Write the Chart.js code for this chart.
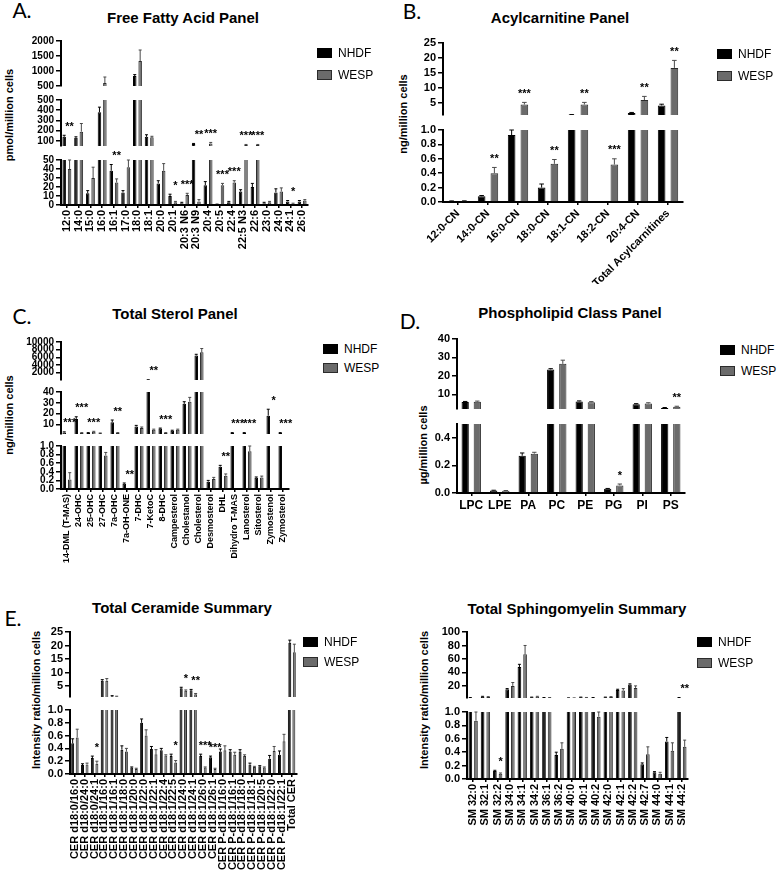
<!DOCTYPE html>
<html>
<head>
<meta charset="utf-8">
<title>Lipid panels</title>
<script src="https://cdn.jsdelivr.net/npm/chart.js@4.4.0/dist/chart.umd.min.js"></script>
<style>
  body { margin: 0; background: #fff; width: 784px; height: 874px; position: relative; overflow: hidden;
         font-family: "Liberation Sans", Arial, sans-serif; color: #000; }
  canvas { position: absolute; }
  .title { position: absolute; font-weight: bold; font-size: 15px; white-space: nowrap; transform: translate(-50%, -50%); }
  .ylab { position: absolute; font-weight: bold; font-size: 11px; white-space: nowrap; transform: translate(-50%, -50%) rotate(-90deg); }
  .letter { position: absolute; font-family: Lato, sans-serif; font-size: 21px; transform: translate(-50%, -50%); }
  .legbox { position: absolute; width: 15px; height: 10px; box-sizing: border-box; }
  .legtxt { position: absolute; font-size: 12px; line-height: 12px; white-space: nowrap; }
</style>
</head>
<body>

<div class="letter" style="left:22px;top:9px">A.</div>
<div class="letter" style="left:412px;top:10px">B.</div>
<div class="letter" style="left:22px;top:315px">C.</div>
<div class="letter" style="left:410px;top:320px">D.</div>
<div class="letter" style="left:13px;top:617px">E.</div>

<div class="title" style="left:183px;top:17px">Free Fatty Acid Panel</div>
<div class="title" style="left:560px;top:17px">Acylcarnitine Panel</div>
<div class="title" style="left:175px;top:313px">Total Sterol Panel</div>
<div class="title" style="left:570px;top:312px">Phospholipid Class Panel</div>
<div class="title" style="left:182px;top:607px">Total Ceramide Summary</div>
<div class="title" style="left:577px;top:608px">Total Sphingomyelin Summary</div>

<div class="ylab" style="left:9px;top:115px">pmol/million cells</div>
<div class="ylab" style="left:403px;top:114px">ng/million cells</div>
<div class="ylab" style="left:9px;top:415px">ng/million cells</div>
<div class="ylab" style="left:423px;top:445px">µg/million cells</div>
<div class="ylab" style="left:36px;top:700px">Intensity ratio/million cells</div>
<div class="ylab" style="left:424px;top:700px">Intensity ratio/million cells</div>

<script>
// ---- A. free fatty acids (pmol/million cells) ----
const ffaLabels = ['12:0','14:0','15:0','16:0','16:1','17:0','18:0','18:1','20:0','20:1','20:3 N6','20:3 N9',
                   '20:4','20:5','22:4','22:5 N3','22:6','23:0','24:0','24:1','26:0'];
const ffaNHDF   = [140, 130, 13, 380, 38, 14, 830, 140, 24, 10, 2, 70, 22, 0.5, 3, 15, 20, 2, 14, 4, 4];
const ffaNHDFSd = [15, 10, 3, 50, 7, 2, 50, 20, 3, 2, 1, 5, 4, 0.5, 1, 2, 4, 1, 4, 1, 1];
const ffaWESP   = [40, 190, 30, 600, 25, 42, 1330, 135, 38, 3, 11, 4, 75, 22, 25, 60, 60, 3, 15, 1.5, 5];
const ffaWESPSd = [10, 80, 12, 200, 4, 8, 370, 10, 8, 1, 2, 2, 10, 2, 2, 5, 5, 1, 4, 0.5, 1];
const ffaStars  = ['**','','','','**','','','','','*','***','**','***','***','***','***','***','','','*',''];
const ffaTicksTop = [500, 1000, 1500, 2000];
const ffaTicksMid = [100, 200, 300, 400, 500];
const ffaTicksLow = [0, 10, 20, 30, 40, 50];

// ---- B. acylcarnitines (ng/million cells) ----
const acLabels   = ['12:0-CN','14:0-CN','16:0-CN','18:0-CN','18:1-CN','18:2-CN','20:4-CN','Total Acylcarnitines'];
const acNHDF     = [0.012, 0.08, 0.93, 0.2, 1.1, 0, 1.7, 4.2];
const acNHDFSd   = [0.003, 0.01, 0.07, 0.05, 0.05, 0, 0.15, 0.4];
const acWESP     = [0.015, 0.40, 4.5, 0.53, 4.5, 0.52, 6.0, 16.7];
const acWESPSd   = [0.005, 0.08, 0.7, 0.06, 0.7, 0.08, 1.2, 2.5];
const acStars    = ['','**','***','**','**','***','**','**'];
const acTicksTop = [5, 10, 15, 20, 25];
const acTicksLow = [0, 0.2, 0.4, 0.6, 0.8, 1.0];

// ---- C. sterols (ng/million cells) ----
const stLabels   = ['14-DML (T-MAS)','24-OHC','25-OHC','27-OHC','7a-OHC','7a-OH-ONE','7-DHC','7-KetoC','8-DHC',
                    'Campesterol','Cholestanol','Cholesterol','Desmosterol','DHL','Dihydro T-MAS','Lanosterol',
                    'Sitosterol','Zymostenol','Zymosterol'];
const stNHDF     = [2.5, 15, 2, 1.5, 12, 0.12, 8, 150, 6, 4, 29, 6500, 0.17, 0.52, 2, 2, 0.26, 18, 2];
const stNHDFSd   = [0.5, 2, 0.3, 0.3, 2, 0.02, 1, 20, 0.5, 0.5, 2, 300, 0.03, 0.03, 0.3, 0.3, 0.02, 6, 0.3];
const stWESP     = [0.22, 2, 3, 0.78, 2, 0, 6.5, 5, 2, 5, 31, 7300, 0.23, 0.31, 0, 0.88, 0.27, 0, 0];
const stWESPSd   = [0.16, 0.3, 0.5, 0.07, 0.3, 0, 1, 0.5, 0.3, 0.5, 4, 1000, 0.04, 0.04, 0, 0.12, 0.03, 0, 0];
const stStars    = ['***','***','***','','**','**','','**','***','','','','','**','***','***','','*','***'];
const stTicksTop = [2000, 4000, 6000, 8000, 10000];
const stTicksMid = [10, 20, 30, 40];
const stTicksLow = [0, 0.2, 0.4, 0.6, 0.8, 1.0];

// ---- D. phospholipid classes (µg/million cells) ----
const plLabels   = ['LPC','LPE','PA','PC','PE','PG','PI','PS'];
const plNHDF     = [5.8, 0.018, 0.27, 23.5, 6.1, 0.03, 4.6, 2.6];
const plNHDFSd   = [0.3, 0.002, 0.02, 0.4, 0.3, 0.003, 0.3, 0.2];
const plWESP     = [5.9, 0.016, 0.285, 26.5, 5.7, 0.055, 5.0, 3.2];
const plWESPSd   = [0.4, 0.002, 0.01, 2, 0.3, 0.01, 0.4, 0.3];
const plStars    = ['','','','','','*','','**'];
const plTicksTop = [10, 20, 30, 40];
const plTicksLow = [0, 0.2, 0.4];

// ---- E. ceramides (intensity ratio/million cells) ----
const cerLabels  = ['CER d18:0/16:0','CER d18:0/24:0','CER d18:0/24:1','CER d18:1/16:0','CER d18:1/16:1',
                    'CER d18:1/18:0','CER d18:1/20:0','CER d18:1/22:0','CER d18:1/22:1','CER d18:1/22:4',
                    'CER d18:1/22:5','CER d18:1/24:0','CER d18:1/24:1','CER d18:1/26:0','CER d18:1/26:1',
                    'CER P-d18:1/16:0','CER P-d18:1/16:1','CER P-d18:1/18:0','CER P-d18:1/18:1',
                    'CER P-d18:1/20:5','CER P-d18:1/22:0','CER P-d18:1/22:1','Total CER'];
const cerNHDF    = [0.48, 0.14, 0.25, 7.0, 1.3, 0.38, 0.1, 0.8, 0.39, 0.37, 0.28, 4.2, 3.5, 0.28, 0.26,
                    0.35, 0.35, 0.35, 0.15, 0.12, 0.24, 0.3, 21];
const cerNHDFSd  = [0.07, 0.02, 0.03, 0.4, 0.2, 0.06, 0.01, 0.06, 0.04, 0.03, 0.03, 0.4, 0.3, 0.03, 0.02,
                    0.04, 0.03, 0.03, 0.02, 0.01, 0.05, 0.06, 1];
const cerWESP    = [0.57, 0.15, 0.16, 7.0, 1.2, 0.35, 0.08, 0.6, 0.31, 0.29, 0.18, 3.3, 2.0, 0.1, 0.08,
                    0.37, 0.3, 0.28, 0.11, 0.10, 0.36, 0.51, 17.5];
const cerWESPSd  = [0.13, 0.02, 0.04, 0.8, 0.1, 0.05, 0.01, 0.09, 0.07, 0.01, 0.03, 0.3, 0.3, 0.01, 0.01,
                    0.07, 0.04, 0.02, 0.01, 0.01, 0.07, 0.11, 3];
const cerStars   = ['','','*','','','','','','','','*','*','**','***','***','','','','','','','',''];
const cerTicksTop = [5, 10, 15, 20, 25];
const cerTicksLow = [0, 0.2, 0.4, 0.6, 0.8, 1.0];

// ---- E. sphingomyelins (intensity ratio/million cells) ----
const smLabels   = ['SM 32:0','SM 32:1','SM 32:2','SM 34:0','SM 34:1','SM 34:2','SM 36:1','SM 36:2','SM 40:0',
                    'SM 40:1','SM 40:2','SM 42:0','SM 42:1','SM 42:2','SM 42:7','SM 44:0','SM 44:1','SM 44:2'];
const smNHDF     = [2.5, 4, 0.12, 15, 48, 3, 2.5, 0.36, 2, 3, 2.5, 3, 14, 22, 0.22, 0.1, 0.56, 2.5];
const smNHDFSd   = [0.2, 0.5, 0.01, 1, 4, 0.3, 0.2, 0.04, 0.2, 0.3, 0.2, 0.3, 1, 1, 0.02, 0.01, 0.06, 0.2];
const smWESP     = [0.87, 3.5, 0.08, 20, 67, 4, 2.5, 0.45, 2, 2.5, 0.93, 3.5, 13, 17, 0.37, 0.08, 0.42, 0.48];
const smWESPSd   = [0.13, 0.5, 0.01, 5, 13, 0.5, 0.2, 0.09, 0.2, 0.3, 0.07, 0.5, 3, 3, 0.11, 0.02, 0.12, 0.1];
const smStars    = ['','','*','','','','','','','','','','','','','','','**'];
const smTicksTop = [20, 40, 60, 80, 100];
const smTicksLow = [0, 0.2, 0.4, 0.6, 0.8, 1.0];

// layout of every panel (page pixels); each broken axis piece is its own small chart
const panels = [
  { labels: ffaLabels, nhdf: ffaNHDF, nhdfSd: ffaNHDFSd, wesp: ffaWESP, wespSd: ffaWESPSd, stars: ffaStars,
    left: 20, axisX: 61, right: 308, labelH: 62, rot: 90, xFont: 11, yFont: 10, catPct: 0.92, barPct: 0.65,
    leg: [317, 53, 75],
    segs: [ { min: 500, max: 2000, top: 41, bottom: 86, ticks: ffaTicksTop, dec: 0 },
            { min: 50, max: 500, top: 100, bottom: 146, ticks: ffaTicksMid, dec: 0 },
            { min: 0, max: 50, top: 160, bottom: 205, ticks: ffaTicksLow, dec: 0 } ] },
  { labels: acLabels, nhdf: acNHDF, nhdfSd: acNHDFSd, wesp: acWESP, wespSd: acWESPSd, stars: acStars,
    left: 395, axisX: 443, right: 683, labelH: 82, rot: 45, xFont: 11, yFont: 11, catPct: 0.85, barPct: 0.6,
    leg: [717, 54, 76],
    segs: [ { min: 1, max: 25, top: 43, bottom: 115, ticks: acTicksTop, dec: 0 },
            { min: 0, max: 1, top: 130, bottom: 202, ticks: acTicksLow, dec: 1 } ] },
  { labels: stLabels, nhdf: stNHDF, nhdfSd: stNHDFSd, wesp: stWESP, wespSd: stWESPSd, stars: stStars,
    left: 20, axisX: 61, right: 289, labelH: 74, rot: 90, xFont: 9, yFont: 10, catPct: 0.92, barPct: 0.65,
    leg: [323, 349, 368],
    segs: [ { min: 100, max: 10000, top: 342, bottom: 379.5, ticks: stTicksTop, dec: 0 },
            { min: 1, max: 40, top: 392, bottom: 433.6, ticks: stTicksMid, dec: 0 },
            { min: 0, max: 1, top: 446, bottom: 489, ticks: stTicksLow, dec: 1 } ] },
  { labels: plLabels, nhdf: plNHDF, nhdfSd: plNHDFSd, wesp: plWESP, wespSd: plWESPSd, stars: plStars,
    left: 410, axisX: 457, right: 685, labelH: 26, rot: 0, xFont: 12, yFont: 11, catPct: 0.85, barPct: 0.6,
    leg: [720, 350, 371],
    segs: [ { min: 2, max: 40, top: 339, bottom: 408.7, ticks: plTicksTop, dec: 0 },
            { min: 0, max: 0.5, top: 424, bottom: 493, ticks: plTicksLow, dec: 1 } ] },
  { labels: cerLabels, nhdf: cerNHDF, nhdfSd: cerNHDFSd, wesp: cerWESP, wespSd: cerWESPSd, stars: cerStars,
    left: 40, axisX: 70, right: 297, labelH: 100, rot: 90, xFont: 11, yFont: 11, catPct: 0.92, barPct: 0.65,
    leg: [303, 642, 662],
    segs: [ { min: 1, max: 25, top: 632, bottom: 697, ticks: cerTicksTop, dec: 0 },
            { min: 0, max: 1, top: 710, bottom: 774, ticks: cerTicksLow, dec: 1 } ] },
  { labels: smLabels, nhdf: smNHDF, nhdfSd: smNHDFSd, wesp: smWESP, wespSd: smWESPSd, stars: smStars,
    left: 430, axisX: 467, right: 688, labelH: 56, rot: 90, xFont: 11, yFont: 11, catPct: 0.92, barPct: 0.65,
    leg: [697, 642, 663],
    segs: [ { min: 2, max: 100, top: 632, bottom: 698, ticks: smTicksTop, dec: 0 },
            { min: 0, max: 1, top: 712, bottom: 779, ticks: smTicksLow, dec: 1 } ] }
];

const padTop = 12, padRight = 10, padBottom = 12;
const wespFill = '#6b6b6b', wespEdge = '#2b2b2b';

// lowest axis piece whose range reaches the value (-1 if it is off the scale)
function segmentFor(p, value) {
  for (let k = p.segs.length - 1; k >= 0; k--) {
    if (value <= p.segs[k].max) return k;
  }
  return -1;
}

// bars that end below an upper piece are left out of it (otherwise a hairline shows at the break)
function inPiece(values, seg, isBottom) {
  return values.map(function(v) { return (isBottom || v > seg.min) ? v : null; });
}

// upper SD whiskers + significance stars, clipped to the piece they belong to
function errorBarPlugin(p, k) {
  const seg = p.segs[k];
  const isBottom = k === p.segs.length - 1;
  return {
    id: 'errorBars',
    afterDatasetsDraw: function(chart) {
      const ctx = chart.ctx;
      const area = chart.chartArea;
      const yScale = chart.scales.y;
      const series = [[p.nhdf, p.nhdfSd, '#000'], [p.wesp, p.wespSd, '#4a4a4a']];

      ctx.save();
      ctx.beginPath();
      ctx.rect(area.left, area.top - 1, area.right - area.left, area.bottom - area.top + 1);
      ctx.clip();
      series.forEach(function(s, d) {
        const bars = chart.getDatasetMeta(d).data;
        s[0].forEach(function(v, i) {
          const sd = s[1][i];
          if (!sd || !bars[i]) return;
          if (!isBottom && v + sd <= seg.min) return;
          const x = bars[i].x;
          const y0 = yScale.getPixelForValue(v);
          const y1 = yScale.getPixelForValue(v + sd);
          const half = Math.max(1.5, (bars[i].width || 4) * 0.3);
          ctx.strokeStyle = s[2];
          ctx.lineWidth = 1;
          ctx.beginPath();
          ctx.moveTo(x, y0);
          ctx.lineTo(x, y1);
          ctx.moveTo(x - half, y1);
          ctx.lineTo(x + half, y1);
          ctx.stroke();
        });
      });
      ctx.restore();

      ctx.save();
      ctx.fillStyle = '#000';
      ctx.font = 'bold 11px "Liberation Sans"';
      ctx.textAlign = 'center';
      ctx.textBaseline = 'bottom';
      const wespBars = chart.getDatasetMeta(1).data;
      p.stars.forEach(function(s, i) {
        if (!s) return;
        const top = Math.max(p.nhdf[i] + p.nhdfSd[i], p.wesp[i] + p.wespSd[i]);
        if (segmentFor(p, top) !== k) return;
        const y = Math.min(yScale.getPixelForValue(Math.max(top, seg.min)), area.bottom);
        ctx.fillText(s, wespBars[i].x, y - 3);
      });
      ctx.restore();
    }
  };
}

function addSegment(p, k) {
  const seg = p.segs[k];
  const isBottom = k === p.segs.length - 1;
  const w = p.right - p.left + padRight;
  const h = Math.round(seg.bottom - seg.top + padTop + (isBottom ? p.labelH : padBottom));

  const canvas = document.createElement('canvas');
  canvas.width = w;
  canvas.height = h;
  canvas.style.width = w + 'px';
  canvas.style.height = h + 'px';
  canvas.style.left = p.left + 'px';
  canvas.style.top = (seg.top - padTop) + 'px';
  document.body.appendChild(canvas);

  new Chart(canvas.getContext('2d'), {
    type: 'bar',
    data: {
      labels: p.labels,
      datasets: [
        { label: 'NHDF', data: inPiece(p.nhdf, seg, isBottom),
          backgroundColor: '#000', borderColor: '#000', borderWidth: 1, clip: 0,
          categoryPercentage: p.catPct, barPercentage: p.barPct },
        { label: 'WESP', data: inPiece(p.wesp, seg, isBottom),
          backgroundColor: wespFill, borderColor: wespEdge, borderWidth: 1, clip: 0,
          categoryPercentage: p.catPct, barPercentage: p.barPct }
      ]
    },
    options: {
      responsive: false,
      animation: false,
      layout: { padding: { top: padTop, right: padRight, bottom: isBottom ? 0 : padBottom, left: 0 } },
      plugins: { legend: { display: false }, tooltip: { enabled: false } },
      scales: {
        x: {
          display: isBottom,
          offset: true,
          afterFit: function(scale) { if (isBottom) scale.height = p.labelH; },
          ticks: { autoSkip: false, minRotation: p.rot, maxRotation: p.rot, padding: 2, color: '#000',
                   font: { family: 'Liberation Sans', weight: 'bold', size: p.xFont } },
          grid: { offset: false, drawOnChartArea: false, drawTicks: true, tickLength: 3, color: '#000', lineWidth: 1.5 },
          border: { display: true, color: '#000', width: 2 }
        },
        y: {
          min: seg.min,
          max: seg.max,
          afterBuildTicks: function(scale) { scale.ticks = seg.ticks.map(function(v) { return { value: v }; }); },
          afterFit: function(scale) { scale.width = p.axisX - p.left; },
          ticks: { autoSkip: false, padding: 2, color: '#000',
                   font: { family: 'Liberation Sans', weight: 'bold', size: p.yFont },
                   callback: function(v) { return Number(v).toFixed(seg.dec); } },
          grid: { drawOnChartArea: false, drawTicks: true, tickLength: 5, color: '#000', lineWidth: 1.5 },
          border: { display: true, color: '#000', width: 2 }
        }
      }
    },
    plugins: [errorBarPlugin(p, k)]
  });
}

function addLegend(p) {
  const entries = [['NHDF', '#000', '#000', p.leg[1]], ['WESP', wespFill, wespEdge, p.leg[2]]];
  entries.forEach(function(e) {
    const box = document.createElement('div');
    box.className = 'legbox';
    box.style.left = p.leg[0] + 'px';
    box.style.top = (e[3] - 5) + 'px';
    box.style.background = e[1];
    box.style.border = '1.5px solid ' + e[2];
    document.body.appendChild(box);
    const txt = document.createElement('div');
    txt.className = 'legtxt';
    txt.textContent = e[0];
    txt.style.left = (p.leg[0] + 21) + 'px';
    txt.style.top = (e[3] - 6) + 'px';
    document.body.appendChild(txt);
  });
}

panels.forEach(function(p) {
  p.segs.forEach(function(seg, k) { addSegment(p, k); });
  addLegend(p);
});
</script>
</body>
</html>
